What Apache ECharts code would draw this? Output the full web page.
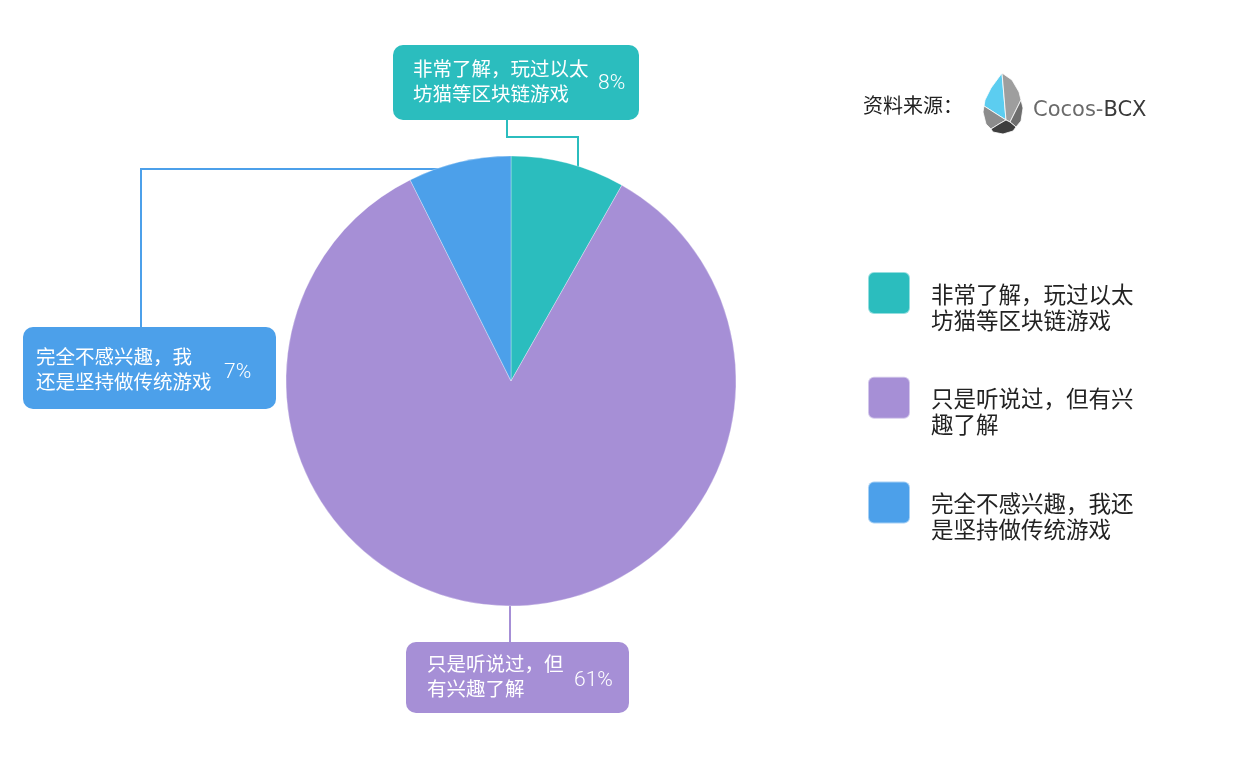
<!DOCTYPE html>
<html><head><meta charset="utf-8">
<script src="https://cdn.jsdelivr.net/npm/echarts@6/dist/echarts.min.js"></script>
<style>html,body{margin:0;padding:0;background:#fff}#c{width:1239px;height:770px}</style>
</head><body><div id="c"></div>
<script>
// ---- data ----
const categories = ['非常了解，玩过以太坊猫等区块链游戏', '只是听说过，但有兴趣了解', '完全不感兴趣，我还是坚持做传统游戏'];
const sliceValues = [8.2, 84.4, 7.4];          // slice sizes as drawn in the picture
const percentLabels = ['8%', '61%', '7%'];     // percentages printed on the callouts
const labelBreaks = [9, 7, 8];                 // where each callout name wraps
const legendBreak = 9;
const colors = ['#2BBDBE', '#A68FD6', '#4CA0EA'];

// ---- layout ----
const CX = 511, CY = 381, R = 225;
const CJK = '"Noto Sans CJK SC", "Noto Sans", sans-serif';
const boxes = [
  {x: 393, y: 45,  w: 246, h: 75, pl: 20, pt: 11,   px: 598, py: 83},
  {x: 406, y: 642, w: 223, h: 71, pl: 21, pt: 9.5,  px: 574, py: 680},
  {x: 23,  y: 327, w: 253, h: 82, pl: 13, pt: 17.5, px: 224, py: 371.5}
];
function leader(i) {
  const b = boxes[i];
  if (i === 0) {
    const sx = b.x + 114, sy = b.y + b.h, ax = 578;
    const ay = CY - Math.sqrt(R * R - (ax - CX) * (ax - CX));
    return [[sx, sy], [sx, sy + 17], [ax, sy + 17], [ax, ay + 2]];
  }
  if (i === 1) {
    const sx = 510;
    return [[sx, b.y], [sx, CY + Math.sqrt(R * R - (sx - CX) * (sx - CX)) - 2]];
  }
  const sx = b.x + 118, ay = 169;
  const ax = CX - Math.sqrt(R * R - (CY - ay) * (CY - ay));
  return [[sx, b.y], [sx, ay], [ax + 3, ay]];
}

const chart = echarts.init(document.getElementById('c'), null, {renderer: 'canvas'});
const rr = 'path://M6,0H36A6,6,0,0,1,42,6V36A6,6,0,0,1,36,42H6A6,6,0,0,1,0,36V6A6,6,0,0,1,6,0Z';

chart.setOption({
  backgroundColor: '#fff',
  animation: false,
  legend: {
    orient: 'vertical', left: 867, top: 271, padding: 0,
    itemWidth: 42, itemHeight: 42, itemGap: 44.5, icon: rr,
    selectedMode: false,
    data: categories,
    formatter: n => '{t|' + n.slice(0, legendBreak) + '\n' + n.slice(legendBreak) + '}',
    textStyle: {
      padding: [28, 0, 0, 16],
      rich: {t: {fontSize: 22.5, lineHeight: 26, color: '#222', fontFamily: CJK}}
    }
  },
  graphic: [
    {type: 'text', left: 863, top: 95, style: {text: '资料来源：', fontSize: 20, fill: '#222', fontFamily: CJK}},
    {type: 'group', x: 983, y: 72, children: [
      {type: 'polygon', shape: {points: [[19,1],[8,16],[2,28],[1,34],[23,48]]}, style: {fill: '#5CCDF0', stroke: '#fff', lineWidth: 0.8}},
      {type: 'polygon', shape: {points: [[19,1],[29,8],[36,20],[38,28],[27,50],[23,48]]}, style: {fill: '#9E9E9E', stroke: '#fff', lineWidth: 0.8}},
      {type: 'polygon', shape: {points: [[38,28],[40,36],[38,49],[33,55],[27,50]]}, style: {fill: '#6E6E6E', stroke: '#fff', lineWidth: 0.8}},
      {type: 'polygon', shape: {points: [[1,34],[0,40],[3,52],[8,57],[16,52],[23,48]]}, style: {fill: '#8C8C8C', stroke: '#fff', lineWidth: 0.8}},
      {type: 'polygon', shape: {points: [[8,57],[10,60],[20,62],[30,59],[33,55],[27,50],[23,48],[16,52]]}, style: {fill: '#3E3E3E', stroke: '#fff', lineWidth: 0.8}}
    ]},
    {type: 'text', left: 1033, top: 100, style: {
      text: '{a|Cocos-}{b|BCX}',
      rich: {a: {fontSize: 21, fill: '#6a6a6a', fontFamily: 'DejaVu Sans', fontWeight: 'normal'},
             b: {fontSize: 21, fill: '#3a3a3a', fontFamily: 'DejaVu Sans', fontWeight: 'normal'}}
    }}
  ],
  series: [
    {
      type: 'pie', center: [CX, CY], radius: R, startAngle: 90, clockwise: true,
      avoidLabelOverlap: false,
      emphasis: {disabled: true},
      itemStyle: {borderColor: 'rgba(255,255,255,0.5)', borderWidth: 0.6},
      data: categories.map((n, i) => ({
        name: n, value: sliceValues[i],
        itemStyle: {color: colors[i]},
        label: {backgroundColor: colors[i], width: boxes[i].w - boxes[i].pl, height: boxes[i].h - boxes[i].pt,
                padding: [boxes[i].pt, 0, 0, boxes[i].pl]},
        labelLine: {lineStyle: {color: colors[i]}}
      })),
      label: {
        show: true, position: 'outside',
        formatter: p => p.name.slice(0, labelBreaks[p.dataIndex]) + '\n' + p.name.slice(labelBreaks[p.dataIndex]),
        color: '#fff', fontSize: 19.5, lineHeight: 25, fontFamily: CJK, borderRadius: 10, align: 'left'
      },
      labelLine: {show: true, length: 10, length2: 10, smooth: false, lineStyle: {width: 2}},
      labelLayout: p => ({
        x: boxes[p.dataIndex].x, y: boxes[p.dataIndex].y, align: 'left', verticalAlign: 'top',
        labelLinePoints: leader(p.dataIndex)
      })
    },
    {
      type: 'pie', center: [CX, CY], radius: R, startAngle: 90, clockwise: true,
      avoidLabelOverlap: false, silent: true, legendHoverLink: false,
      emphasis: {disabled: true},
      itemStyle: {color: 'rgba(0,0,0,0)'},
      data: categories.map((n, i) => ({name: n, value: sliceValues[i]})),
      label: {show: true, position: 'outside', formatter: p => percentLabels[p.dataIndex],
              color: '#fff', fontSize: 21, fontFamily: 'Roboto', fontWeight: 300},
      labelLine: {show: false},
      labelLayout: p => ({x: boxes[p.dataIndex].px, y: boxes[p.dataIndex].py + 1, align: 'left', verticalAlign: 'middle'})
    }
  ]
});
</script>
</body></html>
